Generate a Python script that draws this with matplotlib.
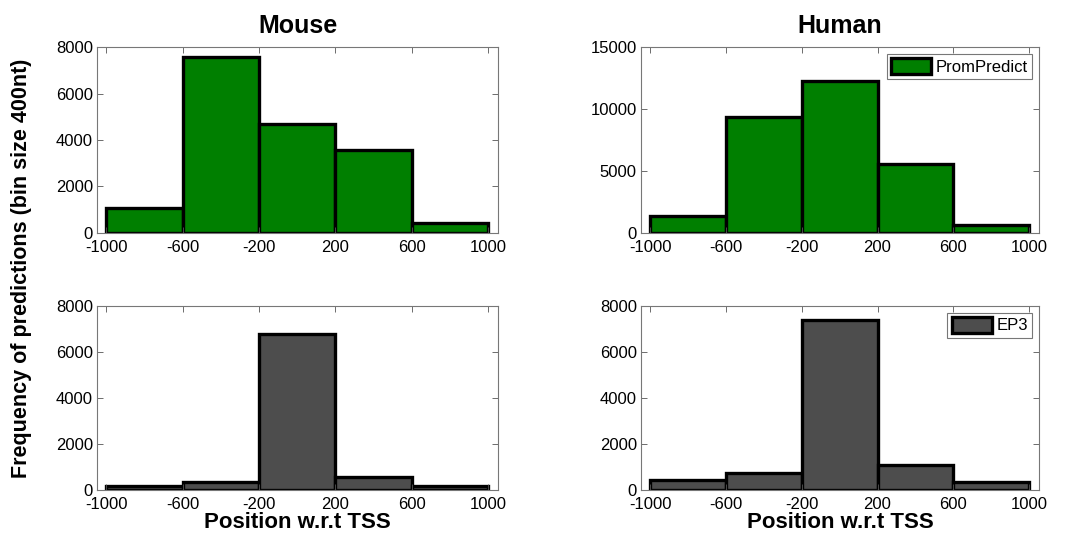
import numpy as np
import matplotlib
matplotlib.use('Agg')
import matplotlib.pyplot as plt

plt.rcParams['font.family'] = ['Liberation Sans', 'DejaVu Sans']
plt.rcParams['axes.unicode_minus'] = False

# histogram data (bin size 400nt)
bin_edges = [-1000, -600, -200, 200, 600, 1000]
mouse_prom = [1070, 7560, 4690, 3570, 450]
human_prom = [1400, 9370, 12250, 5530, 650]
mouse_ep3 = [190, 330, 6800, 580, 160]
human_ep3 = [430, 740, 7390, 1100, 330]

green = '#007f00'
grey = '#4d4d4d'

W, H = 1084, 537
fig = plt.figure(figsize=(W / 100, H / 100), dpi=100)


def px_axes(x0, y0, x1, y1):
    return fig.add_axes([x0 / W, 1 - y1 / H, (x1 - x0) / W, (y1 - y0) / H])


ax_tl = px_axes(97, 47, 498, 233)
ax_tr = px_axes(641, 47, 1039, 233)
ax_bl = px_axes(97, 306, 498, 490)
ax_br = px_axes(641, 306, 1039, 490)

panels = [
    (ax_tl, mouse_prom, green, [0, 2000, 4000, 6000, 8000], 8000, None),
    (ax_tr, human_prom, green, [0, 5000, 10000, 15000], 15000, 'PromPredict'),
    (ax_bl, mouse_ep3, grey, [0, 2000, 4000, 6000, 8000], 8000, None),
    (ax_br, human_ep3, grey, [0, 2000, 4000, 6000, 8000], 8000, 'EP3'),
]

widths = np.diff(bin_edges)
for ax, vals, col, yt, ymax, lab in panels:
    ax.bar(bin_edges[:-1], vals, width=widths, align='edge', color=col,
           edgecolor='black', linewidth=2.4, label=lab)
    ax.set_xlim(-1048, 1052)
    ax.set_ylim(0, ymax)
    ax.set_xticks(bin_edges)
    ax.set_yticks(yt)
    ax.tick_params(direction='in', top=True, right=True, length=4,
                   width=0.6, color='#555555', labelsize=12, pad=3)
    ax.tick_params(axis='x', pad=5)
    for s in ax.spines.values():
        s.set_color('#777777')
        s.set_linewidth(0.8)
    if lab:
        leg = ax.legend(loc='upper right', fontsize=12, fancybox=False,
                        edgecolor='#777777', framealpha=1, borderpad=0.25,
                        handlelength=2.4, handleheight=1.1, handletextpad=0.3,
                        borderaxespad=0.4)
        leg.get_frame().set_linewidth(0.8)

ax_tl.set_title('Mouse', fontsize=18, fontweight='bold', pad=10)
ax_tr.set_title('Human', fontsize=18, fontweight='bold', pad=10)
for ax in (ax_bl, ax_br):
    ax.set_xlabel('Position w.r.t TSS', fontsize=16, fontweight='bold', labelpad=0)

fig.text(22 / W, 0.5, 'Frequency of predictions (bin size 400nt)', rotation=90,
         ha='center', va='center', fontsize=15.5, fontweight='bold')

fig.savefig('out.png', dpi=100)
